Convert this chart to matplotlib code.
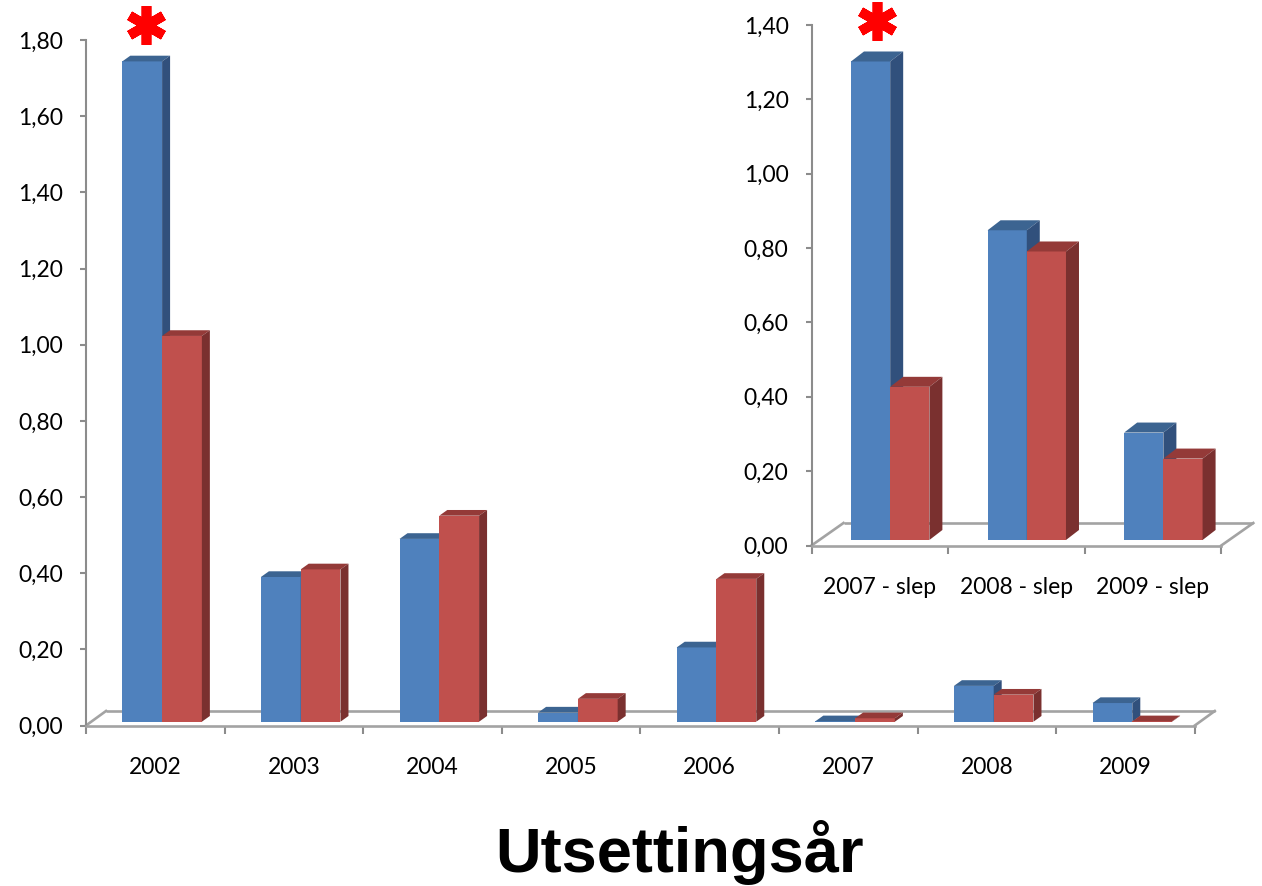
import matplotlib
matplotlib.use("Agg")
import matplotlib.pyplot as plt
from matplotlib.patches import Polygon
from matplotlib.transforms import ScaledTranslation
from matplotlib.ticker import FuncFormatter, FixedLocator

# ---- data -------------------------------------------------------------
years = ["2002", "2003", "2004", "2005", "2006", "2007", "2008", "2009"]
blue_main = [1.734, 0.380, 0.480, 0.024, 0.195, 0.001, 0.094, 0.049]
red_main = [1.013, 0.400, 0.541, 0.060, 0.375, 0.009, 0.071, 0.001]

slep_labels = ["2007 - slep", "2008 - slep", "2009 - slep"]
blue_slep = [1.287, 0.833, 0.289]
red_slep = [0.412, 0.776, 0.219]

main_ticks = [0.0, 0.2, 0.4, 0.6, 0.8, 1.0, 1.2, 1.4, 1.6, 1.8]
slep_ticks = [0.0, 0.2, 0.4, 0.6, 0.8, 1.0, 1.2, 1.4]

title = "Utsettingsår"

# ---- style ------------------------------------------------------------
W, H, DPI = 1262, 886, 100
FONT = "Lato"
BLUE = ("#4F81BD", "#3C6491", "#31507C")   # front, top, side
RED = ("#C0504D", "#943A38", "#7A302F")
AXIS_GREY = "#8C8C8C"
FLOOR_GREY = "#A3A3A3"

fig = plt.figure(figsize=(W / DPI, H / DPI), dpi=DPI)
fig.patch.set_facecolor("white")


def px_axes(x0, y0, px_cat, px_unit, xmax, ymax):
    """Axes whose data origin sits at pixel (x0, y0) measured from the top-left."""
    width = xmax * px_cat
    height = ymax * px_unit
    ax = fig.add_axes([x0 / W, (H - y0) / H, width / W, height / H])
    ax.set_xlim(0, xmax)
    ax.set_ylim(0, ymax)
    ax.patch.set_alpha(0)
    return ax


def draw_chart(ax, labels, blue, red, ticks, px_cat, px_unit,
               floor_px, base_px, side_px, first_left, label_drop_px, star_px):
    n = len(labels)
    ptpx = 72.0 / DPI

    # vertical value axis
    ax.spines["left"].set_bounds(0, ticks[-1])
    ax.spines["left"].set_color(AXIS_GREY)
    ax.spines["left"].set_linewidth(1.5)
    for s in ("top", "right"):
        ax.spines[s].set_visible(False)
    ax.spines["bottom"].set_bounds(0, n)
    ax.spines["bottom"].set_color(FLOOR_GREY)
    ax.spines["bottom"].set_linewidth(1.9)

    ax.yaxis.set_major_locator(FixedLocator(ticks))
    ax.yaxis.set_major_formatter(FuncFormatter(lambda v, p: f"{v:.2f}".replace(".", ",")))
    ax.tick_params(axis="y", length=6 * ptpx, width=1.5, color=AXIS_GREY,
                   pad=17 * ptpx, labelsize=16.5, labelcolor="black")
    for t in ax.get_yticklabels():
        t.set_fontfamily(FONT)

    # category ticks below the floor and labels centred between them
    ax.xaxis.set_major_locator(FixedLocator(range(n + 1)))
    ax.xaxis.set_major_formatter(FuncFormatter(lambda v, p: ""))
    ax.tick_params(axis="x", which="major", length=8 * ptpx, width=1.5, color=AXIS_GREY)
    ax.set_xticks([i + 0.5 for i in range(n)], labels, minor=True)
    ax.tick_params(axis="x", which="minor", length=0, pad=label_drop_px * ptpx,
                   labelsize=16.5)
    for t in ax.get_xticklabels(minor=True):
        t.set_fontfamily(FONT)

    # floor: back edge and two slanted side edges
    fx, fy = floor_px[0] / px_cat, floor_px[1] / px_unit
    ax.plot([fx, n + fx], [fy, fy], color=FLOOR_GREY, lw=1.9, zorder=1,
            solid_capstyle="butt", clip_on=False)
    ax.plot([0, fx], [0, fy], color=FLOOR_GREY, lw=1.9, zorder=1, clip_on=False)
    ax.plot([n, n + fx], [0, fy], color=FLOOR_GREY, lw=1.9, zorder=1, clip_on=False)

    # columns with depth
    by = base_px[1] / px_unit
    ex, ey = side_px[0] / px_cat, side_px[1] / px_unit
    bw = 0.287
    for series, cols, k in ((blue, BLUE, 0), (red, RED, 1)):
        xs = [i + first_left + k * bw for i in range(n)]
        ax.bar(xs, series, width=bw, bottom=by, align="edge", color=cols[0],
               edgecolor="none", zorder=3 + k)
        for x0, v in zip(xs, series):
            top = by + v
            ax.add_patch(Polygon([(x0, top), (x0 + bw, top), (x0 + bw + ex, top + ey),
                                  (x0 + ex, top + ey)], closed=True,
                                 facecolor=cols[1], edgecolor="none", zorder=3 + k))
            ax.add_patch(Polygon([(x0 + bw, by), (x0 + bw + ex, by + ey),
                                  (x0 + bw + ex, top + ey), (x0 + bw, top)], closed=True,
                                 facecolor=cols[2], edgecolor="none", zorder=3 + k))
        if k == 0:
            first_x, first_v = xs[0], series[0]

    # significance marker above the first blue column
    ax.plot([first_x + bw / 2 + ex / 2], [by + first_v + ey], linestyle="none",
            marker=(6, 2, 0), markersize=28, markeredgewidth=7,
            color="#FF0000", clip_on=False, zorder=6,
            transform=ax.transData + ScaledTranslation(0, star_px / DPI,
                                                       fig.dpi_scale_trans))


# main chart
MAIN_CAT, MAIN_UNIT = 138.6, 380.8
ax_main = px_axes(86, 725.5, MAIN_CAT, MAIN_UNIT, 8.35, 1.90)
draw_chart(ax_main, years, blue_main, red_main, main_ticks, MAIN_CAT, MAIN_UNIT,
           floor_px=(20, 14.5), base_px=(5.6, 3.8), side_px=(8, 5.7),
           first_left=0.262, label_drop_px=32, star_px=31)

# inset chart for the towed releases
SLEP_CAT, SLEP_UNIT = 136.6, 371.8
ax_slep = px_axes(811.5, 545.5, SLEP_CAT, SLEP_UNIT, 3.3, 1.45)
draw_chart(ax_slep, slep_labels, blue_slep, red_slep, slep_ticks, SLEP_CAT, SLEP_UNIT,
           floor_px=(32, 22.5), base_px=(7.8, 5.5), side_px=(13, 10),
           first_left=0.289, label_drop_px=32, star_px=30)

fig.text(679.5 / W, 1 - 872 / H, title, ha="center", va="baseline",
         fontsize=45.5, fontweight="bold", family="Liberation Sans")

fig.savefig("out.png", dpi=DPI, facecolor="white")
